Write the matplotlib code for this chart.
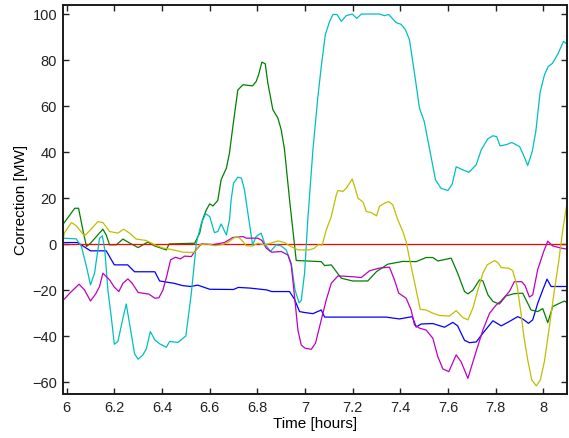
import matplotlib
matplotlib.use("Agg")
import matplotlib.pyplot as plt
from matplotlib.ticker import FuncFormatter

plt.rcParams['font.family'] = ['Liberation Sans', 'DejaVu Sans']

# ---------------- data ----------------
t_blue = [5.983, 6.046, 6.10, 6.166, 6.20, 6.256, 6.285, 6.37, 6.39, 6.45, 6.486, 6.52, 6.55, 6.60,
          6.70, 6.72, 6.77, 6.84, 6.86, 6.935, 6.956, 6.977, 6.998, 7.033, 7.068, 7.082, 7.34, 7.396,
          7.45, 7.466, 7.487, 7.536, 7.585, 7.62, 7.64, 7.669, 7.69, 7.718, 7.746, 7.788, 7.823, 7.857,
          7.892, 7.913, 7.937, 7.955, 7.976, 7.997, 8.015, 8.032, 8.10]
blue = [0.7, 0.7, -2.9, -2.9, -9, -9, -12, -12, -16, -17, -18, -18.4, -17.8, -19.6,
        -19.7, -18.8, -19.1, -19.9, -20.6, -20.6, -24, -29.3, -29.7, -30.2, -28.6, -31.7, -31.7, -32.5,
        -31.5, -36, -34.7, -34.5, -36.1, -34, -35.5, -41.8, -42.8, -42.5, -38.7, -33.3, -35.5, -33.6,
        -31.5, -32.5, -34.4, -32.9, -25.7, -19.9, -15.2, -18.4, -18.4]

t_green = [5.983, 6.034, 6.05, 6.068, 6.083, 6.10, 6.152, 6.166, 6.18, 6.208, 6.236, 6.264, 6.30, 6.34,
           6.37, 6.418, 6.43, 6.537, 6.558, 6.57, 6.586, 6.60, 6.614, 6.634, 6.648, 6.67, 6.683, 6.697,
           6.718, 6.74, 6.76, 6.78, 6.795, 6.805, 6.819, 6.833, 6.844, 6.865, 6.886, 6.90, 6.914, 6.921,
           6.935, 6.963, 7.068, 7.082, 7.11, 7.152, 7.20, 7.263, 7.30, 7.347, 7.41, 7.466, 7.508, 7.536,
           7.557, 7.613, 7.64, 7.669, 7.683, 7.704, 7.732, 7.746, 7.767, 7.788, 7.815, 7.843, 7.878,
           7.913, 7.948, 7.976, 7.997, 8.018, 8.039, 8.067, 8.088, 8.10]
green = [8.4, 15.6, 15.6, 6.2, -1, 0.4, 6.5, 4, -0.3, -0.3, 2.2, 0.5, -1.5, 0.9,
         -0.8, -2.5, 0.1, 0.4, 4.8, 10.6, 14.9, 17.5, 16.6, 19, 28, 33, 39.6, 51,
         67, 69.3, 69, 68.8, 70.7, 73.6, 79.1, 78.4, 70, 58.4, 54.8, 49.7, 41, 33.7,
         19.3, -7.1, -7.6, -9.3, -9, -14.8, -16, -16, -11.9, -8.7, -7.5, -7.6, -5.8, -5.8,
         -7.3, -6.1, -12.6, -20.6, -21.6, -20, -15.5, -16, -22, -24.9, -26, -22.5, -21.5,
         -21.3, -28.6, -29.3, -28, -34.1, -27.1, -25.7, -24.7, -25.5]

t_red = [5.983, 8.10]
red = [0, 0]

t_cyan = [5.983, 6.04, 6.062, 6.083, 6.10, 6.117, 6.131, 6.138, 6.15, 6.16, 6.173, 6.187, 6.20, 6.215,
          6.236, 6.25, 6.267, 6.285, 6.30, 6.32, 6.334, 6.351, 6.37, 6.39, 6.418, 6.432, 6.467, 6.50,
          6.523, 6.544, 6.565, 6.583, 6.60, 6.62, 6.634, 6.648, 6.67, 6.683, 6.69, 6.70, 6.718, 6.733,
          6.746, 6.758, 6.78, 6.795, 6.816, 6.83, 6.855, 6.879, 6.90, 6.921, 6.942, 6.958, 6.975, 6.984,
          6.998, 7.012, 7.033, 7.054, 7.068, 7.085, 7.103, 7.117, 7.134, 7.152, 7.173, 7.198, 7.217,
          7.236, 7.312, 7.333, 7.351, 7.382, 7.403, 7.421, 7.438, 7.459, 7.48, 7.50, 7.522, 7.547, 7.57,
          7.599, 7.617, 7.634, 7.662, 7.687, 7.718, 7.739, 7.767, 7.788, 7.804, 7.818, 7.846, 7.867,
          7.90, 7.916, 7.934, 7.953, 7.968, 7.986, 8.004, 8.02, 8.037, 8.06, 8.084, 8.10]
cyan = [2.6, 2.3, -1, -9.7, -17.7, -12.6, -2.5, 2.6, 3.6, -2.5, -19.9, -31.5, -43.5, -42.3,
        -32.2, -26, -36.5, -47.7, -50, -48.1, -45.6, -38, -41.6, -43.3, -44.8, -42.3, -42.7, -39.9,
        -21.3, 0.4, 9.1, 13.2, 12, 5, 5.5, 8.8, 4, 10.6, 19.3, 26.5, 29.1, 28.7,
        23.6, 15, -0.3, 3.3, 4.8, 0.4, -3.2, -0.3, -0.8, -2.5, -8.3, -19.9, -25.5, -24.5,
        -12.6, 11.3, 41, 64.2, 77.2, 91, 96.8, 99.8, 99.8, 96.8, 99.3, 100, 98.1,
        100, 100, 99.3, 99.8, 96.3, 95.5, 93.2, 88.8, 74.3, 59.1, 53.3, 41.5, 28, 24.3,
        23.3, 26, 33.6, 32.3, 31.2, 34.5, 41, 45.8, 47.1, 46.7, 42.7, 43.3, 44.2,
        42.4, 38.8, 34.2, 40.3, 49, 66, 73.5, 77.2, 78.5, 82.5, 88.1, 86.8]

t_magenta = [5.983, 5.99, 6.013, 6.052, 6.075, 6.10, 6.122, 6.138, 6.152, 6.18, 6.20, 6.219, 6.236,
             6.257, 6.275, 6.30, 6.345, 6.37, 6.387, 6.404, 6.42, 6.436, 6.457, 6.477, 6.495, 6.523,
             6.537, 6.565, 6.614, 6.662, 6.697, 6.74, 6.753, 6.802, 6.819, 6.837, 6.86, 6.90, 6.928,
             6.942, 6.956, 6.97, 6.984, 7.0, 7.026, 7.044, 7.068, 7.089, 7.11, 7.138, 7.194, 7.236,
             7.27, 7.312, 7.354, 7.375, 7.393, 7.424, 7.445, 7.459, 7.48, 7.508, 7.536, 7.557, 7.578,
             7.603, 7.634, 7.655, 7.683, 7.718, 7.746, 7.774, 7.802, 7.823, 7.857, 7.878, 7.909,
             7.923, 7.941, 7.955, 7.976, 8.001, 8.018, 8.039, 8.074, 8.10]
magenta = [-23.9, -23.9, -21.3, -17.4, -19.9, -24.7, -21.6, -18.4, -12.6, -15.5, -18.7, -20.6, -17,
           -15.1, -17, -21, -21.7, -23.5, -23.3, -19.9, -13.8, -6.8, -5.7, -6.4, -5.2, -5.4,
           -3.2, 0.1, -0.2, 0.7, 2.9, 3.3, 2.6, 2.6, 1.6, -1.7, -3.5, -3.2, -4.7,
           -9, -22.8, -37.3, -43.8, -45.2, -45.7, -43, -32.9, -24.2, -17, -13.8, -14.1, -14.5,
           -11.6, -10.4, -10, -15.5, -21.3, -23.5, -28.6, -35.1, -36.5, -37.3, -40.9, -48.9, -54.2,
           -55.4, -48.1, -51.2, -58.3, -46.5, -37.3, -30, -26.4, -24.6, -20.6, -16.3, -16.3,
           -18, -23, -22, -11, -3.2, 1.3, -0.8, -1.7, -2.2]

t_yellow = [5.983, 5.99, 6.02, 6.04, 6.075, 6.10, 6.131, 6.152, 6.18, 6.215, 6.239, 6.264, 6.292,
            6.334, 6.37, 6.404, 6.432, 6.46, 6.488, 6.537, 6.558, 6.592, 6.62, 6.648, 6.676, 6.70,
            6.718, 6.74, 6.753, 6.78, 6.802, 6.83, 6.855, 6.886, 6.914, 6.935, 6.97, 6.99, 7.019,
            7.04, 7.054, 7.072, 7.089, 7.11, 7.131, 7.138, 7.159, 7.173, 7.198, 7.208, 7.222, 7.243,
            7.257, 7.278, 7.30, 7.312, 7.333, 7.351, 7.368, 7.389, 7.41, 7.424, 7.445, 7.466, 7.483,
            7.508, 7.536, 7.564, 7.606, 7.634, 7.662, 7.683, 7.704, 7.725, 7.746, 7.764, 7.795, 7.809,
            7.823, 7.853, 7.871, 7.89, 7.904, 7.918, 7.934, 7.951, 7.97, 7.987, 8.004, 8.025, 8.046,
            8.063, 8.081, 8.10]
yellow = [-0.3, 4.8, 9.4, 8, 3.6, 6.2, 9.8, 9.4, 5.5, 4.8, 6.5, 4.8, 2.2,
          1.6, -0.3, -1.7, -2.2, -2.8, -3.5, -3.6, -0.3, 0.1, -0.7, -0.3, 0.7, 2.6,
          3.3, 1.1, -0.7, -0.8, 0.4, -0.3, 0.4, 1.4, 0.7, -0.7, -2.5, -2.5, -2.5,
          -1.7, -0.3, -0.4, 6.2, 12, 21.4, 23.3, 22.9, 24.3, 28.3, 25, 20, 18.3,
          14.2, 13.7, 12.3, 16.4, 17.8, 18.5, 17.1, 10.6, 5.5, 1.1, -9.7, -19.9, -28.3,
          -28.6, -30, -31, -31.2, -28.9, -31.9, -32.9, -27.8, -19.9, -12.6, -9, -7.1, -8,
          -10.2, -10.4, -11.5, -18.4, -28.6, -40.2, -50.3, -59, -61.6, -59, -51, -35.8, -19.9,
          -8.3, 6.2, 18.5]

x_ticks = [6, 6.2, 6.4, 6.6, 6.8, 7, 7.2, 7.4, 7.6, 7.8, 8]
y_ticks = [-60, -40, -20, 0, 20, 40, 60, 80, 100]

# ---------------- figure ----------------
fig = plt.figure(figsize=(5.69, 4.38), dpi=100)
ax = fig.add_axes([0.110, 0.100, 0.887, 0.889])

lw = 0.9
ax.plot(t_blue, blue, color=(0, 0, 1), lw=lw)
ax.plot(t_green, green, color=(0, 0.5, 0), lw=lw)
ax.plot(t_red, red, color=(1, 0, 0), lw=lw)
ax.plot(t_cyan, cyan, color=(0, 0.75, 0.75), lw=lw)
ax.plot(t_magenta, magenta, color=(0.75, 0, 0.75), lw=lw)
ax.plot(t_yellow, yellow, color=(0.75, 0.75, 0), lw=lw)

ax.set_xlim(5.983, 8.1)
ax.set_ylim(-65.2, 104)
ax.set_xticks(x_ticks)
ax.set_yticks(y_ticks)
ax.xaxis.set_major_formatter(FuncFormatter(lambda v, p: f"{v:g}"))
ax.tick_params(direction='in', top=True, right=True, length=4.5, width=1.0,
               labelsize=10.5, colors='#222222', pad=5)
ax.tick_params(axis='y', pad=4)
for s in ax.spines.values():
    s.set_linewidth(1.4)
    s.set_color('#1a1a1a')

ax.set_xlabel("Time [hours]", fontsize=11, labelpad=1)
ax.set_ylabel("Correction [MW]", fontsize=11, labelpad=3)

fig.savefig("out.png", dpi=100)
